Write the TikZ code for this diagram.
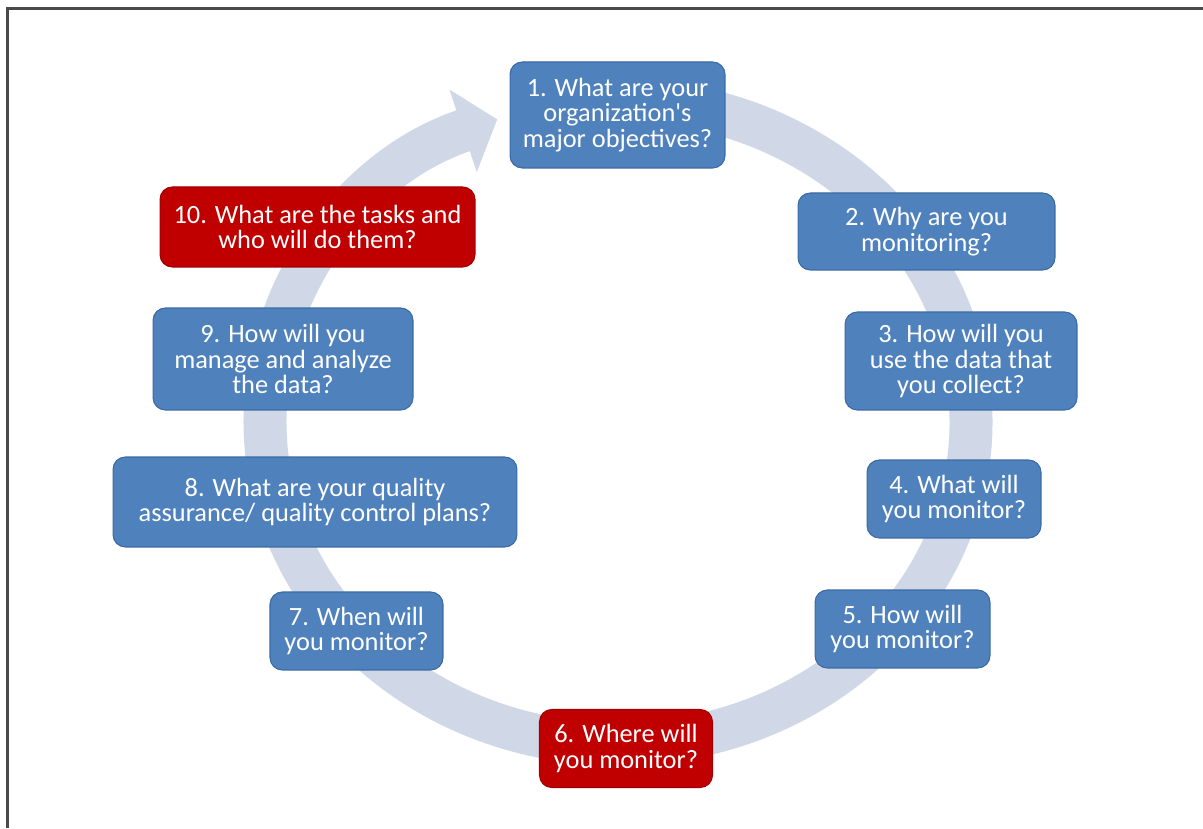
\documentclass[tikz,border=0pt]{standalone}
\usepackage{fontspec}
\setmainfont{Carlito}
\usetikzlibrary{arrows.meta,calc}
\definecolor{cardblue}{HTML}{4F81BD}
\definecolor{cardblueline}{HTML}{3B6AA3}
\definecolor{cardred}{HTML}{C00000}
\definecolor{cardredline}{HTML}{A00000}
\definecolor{ringgray}{HTML}{D0D8E8}
\definecolor{framegray}{HTML}{4A4A4A}
\tikzset{
  qcard/.style={line width=0.6pt,rounded corners=7pt,align=center,inner sep=2pt,text=white,font=\fontsize{15}{14.7}\selectfont},
  bluecard/.style={qcard,draw=cardblueline,fill=cardblue},
  redcard/.style={qcard,draw=cardredline,fill=cardred},
  cyclering/.style={-{Triangle[length=0.72cm,width=1.7cm]},line width=0.86cm,color=ringgray}
}

\begin{document}
\begin{tikzpicture}[x=0.02cm,y=0.02cm]
  \useasboundingbox (0,0) rectangle (1203,828);
  \draw[framegray,line width=1.2pt] (7.5,0) -- (7.5,819.5) -- (1203,819.5);
  % the cycle behind the questions
  \coordinate (hub) at (618,406);
  \draw[cyclering] ($(hub)+(95:353 and 322)$) arc[start angle=95,end angle=-250,x radius=353,y radius=322];
  % questions, clockwise from the top
  \node[bluecard,minimum width=4.30cm,minimum height=2.12cm] (objectives) at (617.5,713) {1. What are your\\organization\textquotesingle s\\major objectives?};
  \node[bluecard,minimum width=5.14cm,minimum height=1.54cm] (why) at (926.5,596.5) {2. Why are you\\monitoring?};
  \node[bluecard,minimum width=4.64cm,minimum height=1.96cm] (use) at (961,467) {3. How will you\\use the data that\\you collect?};
  \node[bluecard,minimum width=3.48cm,minimum height=1.56cm] (what) at (954,329) {4. What will\\you monitor?};
  \node[bluecard,minimum width=3.50cm,minimum height=1.56cm] (how) at (902.5,199) {5. How will\\you monitor?};
  \node[redcard,minimum width=3.46cm,minimum height=1.56cm] (where) at (626,79.5) {6. Where will\\you monitor?};
  \node[bluecard,minimum width=3.46cm,minimum height=1.56cm] (when) at (356.5,197) {7. When will\\you monitor?};
  \node[bluecard,minimum width=8.08cm,minimum height=1.80cm] (qaqc) at (315,326) {8. What are your quality\\assurance/ quality control plans?};
  \node[bluecard,minimum width=5.20cm,minimum height=2.04cm] (manage) at (283,469) {9. How will you\\manage and analyze\\the data?};
  \node[redcard,minimum width=6.30cm,minimum height=1.60cm] (tasks) at (317.5,601) {10. What are the tasks and\\who will do them?};
\end{tikzpicture}
\end{document}
